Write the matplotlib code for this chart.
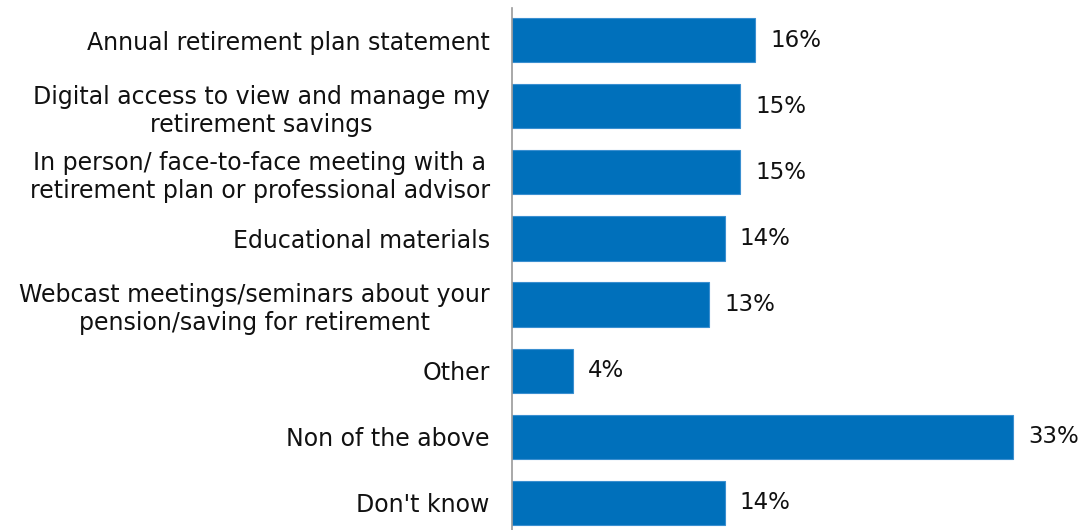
import matplotlib
matplotlib.use("Agg")
import matplotlib.pyplot as plt

categories = [
    "Annual retirement plan statement",
    "Digital access to view and manage my\nretirement savings",
    "In person/ face-to-face meeting with a\nretirement plan or professional advisor",
    "Educational materials",
    "Webcast meetings/seminars about your\npension/saving for retirement",
    "Other",
    "Non of the above",
    "Don't know",
]
values = [16, 15, 15, 14, 13, 4, 33, 14]
value_labels = ["16%", "15%", "15%", "14%", "13%", "4%", "33%", "14%"]

plt.rcParams['font.family'] = ['DejaVu Sans']
fig = plt.figure(figsize=(10.86, 5.30), dpi=100)
ax = fig.add_axes([512/1086, 0.0, 1 - 512/1086, 1 - 8/530])

y = list(range(len(categories)))
ax.barh(y, values, height=0.67, color="#0070BB", edgecolor="#3A8FD0", linewidth=0.8)
ax.set_ylim(7.41, -0.485)
ax.set_xlim(0, 37.8)

for yi, v, lab in zip(y, values, value_labels):
    ax.text(v + 1.0, yi, lab, va="center", ha="left", fontsize=16.5, color="#111111")

ax.set_yticks(y)
ax.set_yticklabels(categories, fontsize=17, color="#111111")
ax.tick_params(axis="y", length=0, pad=16)
for t in ax.get_yticklabels():
    t.set_ha("right")
    t.set_multialignment("center")
    t.set_linespacing(1.22)
ax.set_xticks([])
for s in ["top", "right", "bottom"]:
    ax.spines[s].set_visible(False)
ax.spines["left"].set_color("#999999")
ax.spines["left"].set_linewidth(1.2)

fig.savefig("out.png", dpi=100)
